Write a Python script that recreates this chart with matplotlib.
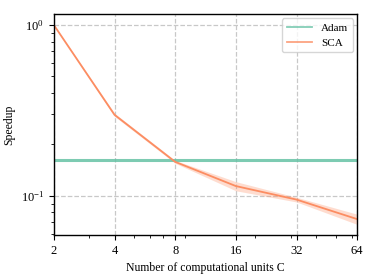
import matplotlib
matplotlib.use("Agg")
import matplotlib.pyplot as plt
from matplotlib.ticker import LogLocator, NullFormatter, FixedLocator, FixedFormatter

plt.rcParams['font.family'] = ['Liberation Serif', 'DejaVu Serif']
plt.rcParams['mathtext.fontset'] = 'stix'

units = [2, 4, 8, 16, 32, 64]
x_labels = ['2', '4', '8', '16', '32', '64']
adam = [0.162, 0.162, 0.162, 0.162, 0.162, 0.162]
sca = [1.0, 0.298, 0.158, 0.114, 0.095, 0.073]
sca_lo = [0.995, 0.292, 0.155, 0.107, 0.092, 0.068]
sca_hi = [1.005, 0.304, 0.161, 0.121, 0.098, 0.078]

fig = plt.figure(figsize=(3.74, 2.8), dpi=100)
ax = fig.add_axes([0.144, 0.161, 0.811, 0.789])

ax.plot(units, adam, color='#66c2a5', lw=2.2, alpha=0.85, label='Adam')
ax.plot(units, sca, color='#fc8d62', lw=1.3, label='SCA')
ax.fill_between(units, sca_lo, sca_hi, color='#fc8d62', alpha=0.3, lw=0)

ax.set_xscale('log')
ax.set_yscale('log')
ax.set_xlim(2, 64)
ax.set_ylim(0.059, 1.16)
ax.xaxis.set_major_locator(FixedLocator(units))
ax.xaxis.set_major_formatter(FixedFormatter(x_labels))
ax.xaxis.set_minor_locator(LogLocator(base=10, subs='auto'))
ax.xaxis.set_minor_formatter(NullFormatter())
ax.yaxis.set_minor_formatter(NullFormatter())

ax.grid(True, which='major', ls='--', color='#c8c8c8', lw=0.9)
ax.set_axisbelow(True)
ax.tick_params(labelsize=9, width=0.8, color='black')
for s in ax.spines.values():
    s.set_linewidth(1.0)
    s.set_color('black')

ax.set_xlabel('Number of computational units C', fontsize=8.5)
ax.set_ylabel('Speedup', fontsize=8.5)
leg = ax.legend(loc='upper right', fontsize=8, framealpha=0.8, edgecolor='#cccccc',
                handlelength=2.3, borderaxespad=0.4)
for h in leg.get_lines():
    h.set_linewidth(1.3)
    h.set_alpha(0.8)

fig.savefig('out.png', dpi=100)
